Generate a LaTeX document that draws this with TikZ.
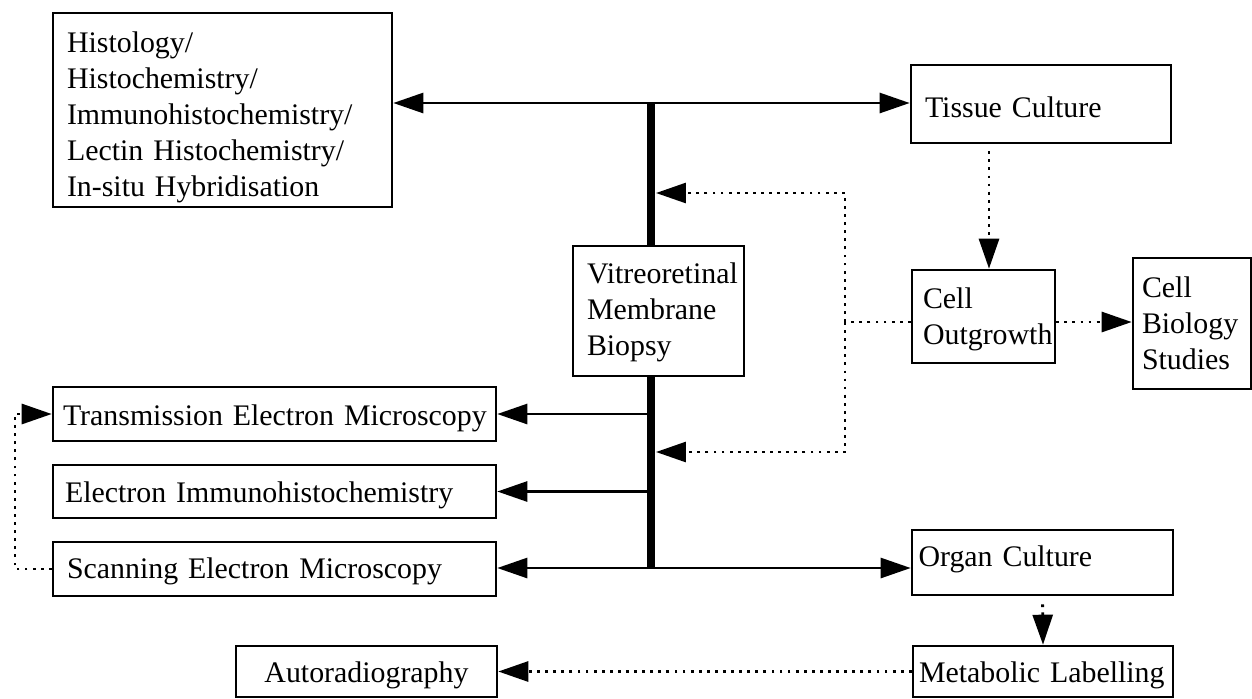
\documentclass[tikz,border=0pt]{standalone}
\usepackage{fontspec}
\setmainfont{Liberation Serif}
\usetikzlibrary{arrows.meta}

\begin{document}
\begin{tikzpicture}[
    x=0.02cm, y=-0.02cm,
    block/.style={rectangle, draw, line width=1.5pt, fill=white, inner xsep=0pt, inner ysep=0pt, align=left, font=\fontsize{17pt}{20.5pt}\selectfont},
    oneline/.style={text height=#1, text depth=0pt},
    oneline/.default=13pt,
    arrow/.style={-{Triangle[length=0.6cm, width=0.4cm]}, line width=1.5pt},
    dotarrow/.style={arrow, line width=1.6pt, dash pattern=on 1.6pt off 3pt},
    dotline/.style={line width=1.6pt, dash pattern=on 1.6pt off 3pt},
    bar/.style={line width=5pt},
]
\useasboundingbox (0,0) rectangle (1252,698);
\coordinate (bartop) at (651,103);
\coordinate (barbot) at (651,568);
\draw[bar] (bartop) -- (barbot);

\node[block, minimum width=6.78cm, minimum height=3.88cm, text width=6.22cm, text height=20pt] (hist) at (222.5,110) {Histology/\\Histochemistry/\\Immunohistochemistry/\\Lectin Histochemistry/\\In-situ Hybridisation};
\node[block, oneline=15pt, minimum width=5.2cm, minimum height=1.56cm, text width=4.64cm] (tissue) at (1041,104) {Tissue Culture};
\node[block, minimum width=3.42cm, minimum height=2.6cm, text width=2.86cm, text height=13pt] (vitreo) at (658.5,311) {Vitreoretinal\\Membrane\\Biopsy};
\node[block, minimum width=2.86cm, minimum height=1.86cm, text width=2.42cm, text height=15pt] (cellout) at (983.5,316.5) {Cell\\Outgrowth};
\node[block, minimum width=2.36cm, minimum height=2.62cm, text width=2.0cm, text height=11pt] (cellbio) at (1192,323.5) {Cell\\Biology\\Studies};
\node[block, oneline=13.6pt, minimum width=8.86cm, minimum height=1.08cm, text width=8.46cm] (tem) at (274.5,414) {\mbox{Transmission Electron Microscopy}};
\node[block, oneline, minimum width=8.86cm, minimum height=1.06cm, text width=8.38cm] (ei) at (274.5,491.5) {Electron Immunohistochemistry};
\node[block, oneline=11.3pt, minimum width=8.86cm, minimum height=1.08cm, text width=8.3cm] (sem) at (274.5,569) {Scanning Electron Microscopy};
\node[block, oneline=5pt, minimum width=5.22cm, minimum height=1.3cm, text width=4.96cm] (organ) at (1042.5,562.5) {Organ Culture};
\node[block, oneline, minimum width=5.2cm, minimum height=1.02cm, text width=4.96cm] (metab) at (1043,671.5) {Metabolic Labelling};
\node[block, oneline, minimum width=5.22cm, minimum height=1.02cm, align=center] (autorad) at (366.5,671.5) {Autoradiography};

% from the biopsy bar
\draw[arrow] (bartop) -- (bartop -| hist.east);
\draw[arrow] (bartop) -- (bartop -| tissue.west);
\draw[arrow] (tem.east -| bartop) -- (tem.east);
\draw[arrow] (ei.east -| bartop) -- (ei.east);
\draw[arrow] (barbot) -- (barbot -| sem.east);
\draw[arrow] (barbot) -- (barbot -| organ.west);

% dotted links
\coordinate (fbk) at (845,322);
\coordinate (fbup) at (656,193);
\coordinate (fbdn) at (656,452);
\coordinate (drop) at (989,0);
\coordinate (loop) at (15,0);
\draw[dotarrow, shorten <=0.14cm] (tissue.south -| drop) -- (cellout.north -| drop);
\draw[dotline] (fbk -| cellout.west) -- (fbk);
\draw[dotarrow] (fbk) |- (fbup);
\draw[dotarrow] (fbk) |- (fbdn);
\draw[dotarrow] (fbk -| cellout.east) -- (fbk -| cellbio.west);
\draw[dotarrow, shorten <=0.16cm] (organ.south) -- (metab.north);
\draw[dotarrow] (metab.west) -- (autorad.east);
\draw[dotarrow] (sem.west) -- (sem.west -| loop) |- (tem.west);
\end{tikzpicture}
\end{document}
